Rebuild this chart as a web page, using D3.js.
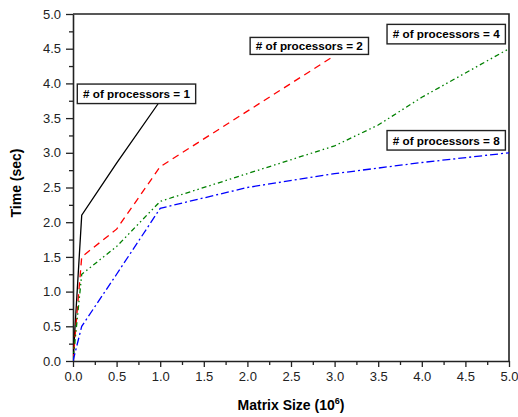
<!DOCTYPE html>
<html>
<head>
<meta charset="utf-8">
<script src="https://cdn.jsdelivr.net/npm/d3@7"></script>
<style>
  html, body { margin: 0; padding: 0; background: #fff; }
  svg { display: block; font-family: "Liberation Sans", Arial, Helvetica, sans-serif; }
</style>
</head>
<body>
<svg id="chart" width="518" height="417"></svg>
<script>
// Execution time vs. matrix size for different processor counts
const sizeP1 = [0, 0.1, 0.5, 1.0];
const timeP1 = [0, 2.1, 2.85, 3.75];

const sizeP2 = [0, 0.1, 0.5, 1.0, 2.0, 3.0];
const timeP2 = [0, 1.5, 1.9, 2.8, 3.6, 4.4];

const sizeP4 = [0, 0.1, 0.5, 1.0, 2.0, 3.0, 3.5, 4.0, 5.0];
const timeP4 = [0, 1.25, 1.65, 2.3, 2.7, 3.1, 3.4, 3.8, 4.5];

const sizeP8 = [0, 0.1, 0.5, 1.0, 2.0, 3.0, 4.0, 5.0];
const timeP8 = [0, 0.5, 1.25, 2.2, 2.5, 2.7, 2.86, 3.0];

const seriesNames = ["# of processors = 1", "# of processors = 2", "# of processors = 4", "# of processors = 8"];
const xTicks = [0, 0.5, 1.0, 1.5, 2.0, 2.5, 3.0, 3.5, 4.0, 4.5, 5.0];
const yTicks = [0, 0.5, 1.0, 1.5, 2.0, 2.5, 3.0, 3.5, 4.0, 4.5, 5.0];

const svg = d3.select("#chart");
const plotLeft = 73, plotRight = 509, plotTop = 14, plotBottom = 361;

const x = d3.scaleLinear().domain([0, 5]).range([plotLeft, plotRight]);
const y = d3.scaleLinear().domain([0, 5]).range([plotBottom, plotTop]);

const axisColor = "#222";

// frame (top and right edges)
svg.append("path")
  .attr("d", `M${plotLeft},${plotTop}H${plotRight}V${plotBottom}`)
  .attr("fill", "none")
  .attr("stroke", axisColor)
  .attr("stroke-width", 1.6);

// minor ticks
const minor = d3.range(0.25, 5, 0.5);
svg.append("g")
  .attr("transform", `translate(0,${plotBottom})`)
  .call(d3.axisBottom(x).tickValues(minor).tickSize(4).tickFormat(""))
  .call(g => g.select(".domain").remove())
  .call(g => g.selectAll("line").attr("stroke", axisColor).attr("stroke-width", 1.3));
svg.append("g")
  .attr("transform", `translate(${plotLeft},0)`)
  .call(d3.axisLeft(y).tickValues(minor).tickSize(4).tickFormat(""))
  .call(g => g.select(".domain").remove())
  .call(g => g.selectAll("line").attr("stroke", axisColor).attr("stroke-width", 1.3));

// major axes
const fmt = d3.format(".1f");
const xAxis = svg.append("g")
  .attr("transform", `translate(0,${plotBottom})`)
  .call(d3.axisBottom(x).tickValues(xTicks).tickFormat(fmt).tickSize(6).tickSizeOuter(0).tickPadding(5));
const yAxis = svg.append("g")
  .attr("transform", `translate(${plotLeft},0)`)
  .call(d3.axisLeft(y).tickValues(yTicks).tickFormat(fmt).tickSize(7).tickSizeOuter(0).tickPadding(5));

[xAxis, yAxis].forEach(a => {
  a.select(".domain").attr("stroke", axisColor).attr("stroke-width", 1.6);
  a.selectAll(".tick line").attr("stroke", axisColor).attr("stroke-width", 1.3);
  a.selectAll(".tick text")
    .attr("fill", "#222")
    .style("font-size", "13px")
    .style("font-family", "'Liberation Sans', Arial, sans-serif");
});

// series lines
const line = d3.line().x(d => x(d[0])).y(d => y(d[1]));
const series = [
  { xs: sizeP1, ys: timeP1, color: "#000000", dash: null },
  { xs: sizeP2, ys: timeP2, color: "#ff0000", dash: "7,5" },
  { xs: sizeP4, ys: timeP4, color: "#008000", dash: "5,3,1.5,3,1.5,3" },
  { xs: sizeP8, ys: timeP8, color: "#0000ff", dash: "8,3,2,3" }
];

svg.append("defs").append("clipPath").attr("id", "plot-clip")
  .append("rect").attr("x", plotLeft).attr("y", plotTop)
  .attr("width", plotRight - plotLeft).attr("height", plotBottom - plotTop);

const lines = svg.append("g").attr("clip-path", "url(#plot-clip)");
series.forEach(s => {
  lines.append("path")
    .datum(s.xs.map((v, i) => [v, s.ys[i]]))
    .attr("d", line)
    .attr("fill", "none")
    .attr("stroke", s.color)
    .attr("stroke-width", 1.3)
    .attr("stroke-dasharray", s.dash);
});

// boxed series labels, anchored in data units
const labelAnchorX = [0.728, 2.71, 4.28, 4.28];
const labelAnchorY = [3.85, 4.54, 4.71, 3.18];

const labels = svg.append("g");
seriesNames.forEach((name, i) => {
  const g = labels.append("g")
    .attr("transform", `translate(${x(labelAnchorX[i])},${y(labelAnchorY[i])})`);
  const rect = g.append("rect").attr("fill", "#fff").attr("stroke", "#222").attr("stroke-width", 1.4);
  const t = g.append("text")
    .attr("text-anchor", "middle")
    .attr("dy", "0.36em")
    .style("font-size", "11.7px")
    .style("font-weight", "bold")
    .attr("fill", "#000")
    .text(name);
  const bb = t.node().getBBox();
  const w = bb.width + 11, h = i === 1 ? 17 : 19.5;
  rect.attr("x", -w / 2).attr("y", -h / 2).attr("width", w).attr("height", h);
});

// axis titles
svg.append("text")
  .attr("transform", `translate(21,183) rotate(-90)`)
  .attr("text-anchor", "middle")
  .style("font-size", "14px")
  .style("font-weight", "bold")
  .attr("fill", "#000")
  .text("Time (sec)");

const xt = svg.append("text")
  .attr("x", (plotLeft + plotRight) / 2)
  .attr("y", 410)
  .attr("text-anchor", "middle")
  .style("font-size", "14px")
  .style("font-weight", "bold")
  .attr("fill", "#000");
xt.append("tspan").text("Matrix Size (10");
xt.append("tspan").attr("dy", -6).style("font-size", "9px").text("6");
xt.append("tspan").attr("dy", 6).text(")");
</script>
</body>
</html>
